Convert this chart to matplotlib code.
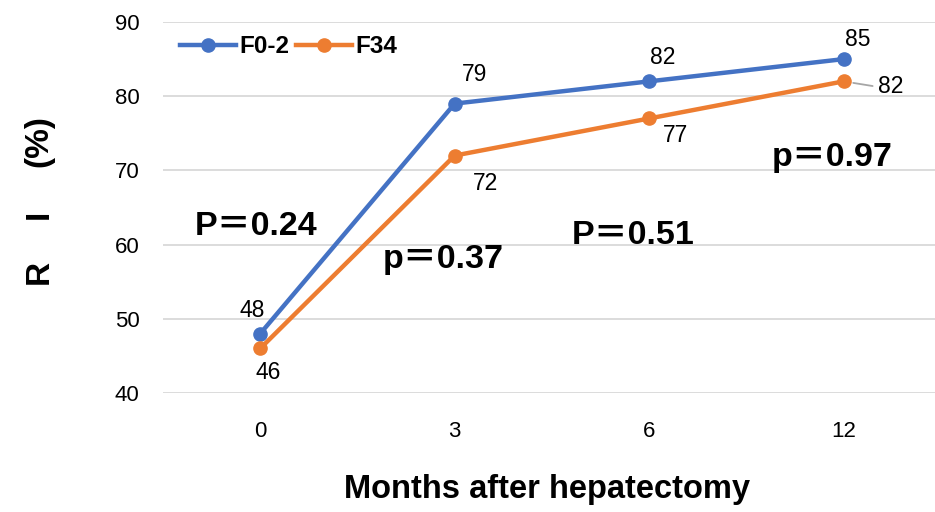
import matplotlib
matplotlib.use("Agg")
import matplotlib.pyplot as plt

plt.rcParams['font.family'] = ['Liberation Sans', 'Noto Sans CJK JP', 'DejaVu Sans']

months = ["0", "3", "6", "12"]
f02 = [48, 79, 82, 85]
f34 = [46, 72, 77, 82]
p_labels = ["P＝0.24", "p＝0.37", "P＝0.51", "p＝0.97"]
p_ypos = [62.5, 58.0, 61.2, 71.8]
p_xoff = [-0.02, -0.06, -0.08, -0.06]

blue = "#4472C4"
orange = "#ED7D31"

fig = plt.figure(figsize=(9.35, 5.12), dpi=100)
ax = fig.add_axes([163/935, 1-393/512, (935-163)/935, (393-22)/512])

x = list(range(len(months)))
ax.plot(x, f02, color=blue, lw=3.2, marker='o', ms=9.5, label="F0-2", zorder=3)
ax.plot(x, f34, color=orange, lw=3.2, marker='o', ms=9.5, label="F34", zorder=3)

ax.set_xlim(-0.5, 3.47)
ax.set_ylim(40, 90)
ax.set_yticks([40, 50, 60, 70, 80, 90])
ax.set_xticks(x)
ax.set_xticklabels(months)
ax.grid(axis='y', color='#d9d9d9', lw=1.3)
ax.set_axisbelow(True)
for s in ax.spines.values():
    s.set_visible(False)
ax.tick_params(length=0, labelsize=16, colors='black')
ax.tick_params(axis='y', pad=17)
ax.tick_params(axis='x', pad=20)

# data labels (offsets in points)
f02_off = [(-6, 17), (14, 21), (10, 17), (10, 14)]
f34_off = [(6, -17), (22, -20), (19, -12), (0, 0)]
for i, v in enumerate(f02):
    ax.annotate(str(v), (x[i], v), xytext=f02_off[i], textcoords='offset points',
                ha='center', va='center', fontsize=16.5)
for i, v in enumerate(f34):
    if i == 3:
        ax.annotate(str(v), (x[i], v), xytext=(34, -4), textcoords='offset points',
                    ha='center', va='center', fontsize=16.5,
                    arrowprops=dict(arrowstyle='-', color='#a6a6a6', lw=1.3,
                                    relpos=(0, 0.5), shrinkA=2, shrinkB=7))
    else:
        ax.annotate(str(v), (x[i], v), xytext=f34_off[i], textcoords='offset points',
                    ha='center', va='center', fontsize=16.5)

for i, t in enumerate(p_labels):
    ax.text(x[i] + p_xoff[i], p_ypos[i], t, ha='center', va='center',
            fontsize=24.5, fontweight='bold')

fig.text(547/935, 1-498/512, "Months after hepatectomy", ha='center', va='baseline',
         fontsize=23.5, fontweight='bold')

# y-axis title, spaced letters
for txt, yc in [("R", 272), ("I", 214), ("(%)", 141)]:
    fig.text(39/935, 1-yc/512, txt, rotation=90, ha='center', va='center',
             fontsize=24, fontweight='bold')

leg = ax.legend(loc='upper left', bbox_to_anchor=(0.0, 1.01), ncol=2, frameon=False,
                fontsize=17.5, handlelength=2.3, columnspacing=0.25, handletextpad=0.15,
                borderaxespad=0.3)
for t in leg.get_texts():
    t.set_fontweight('bold')

fig.savefig("out.png", dpi=100)
